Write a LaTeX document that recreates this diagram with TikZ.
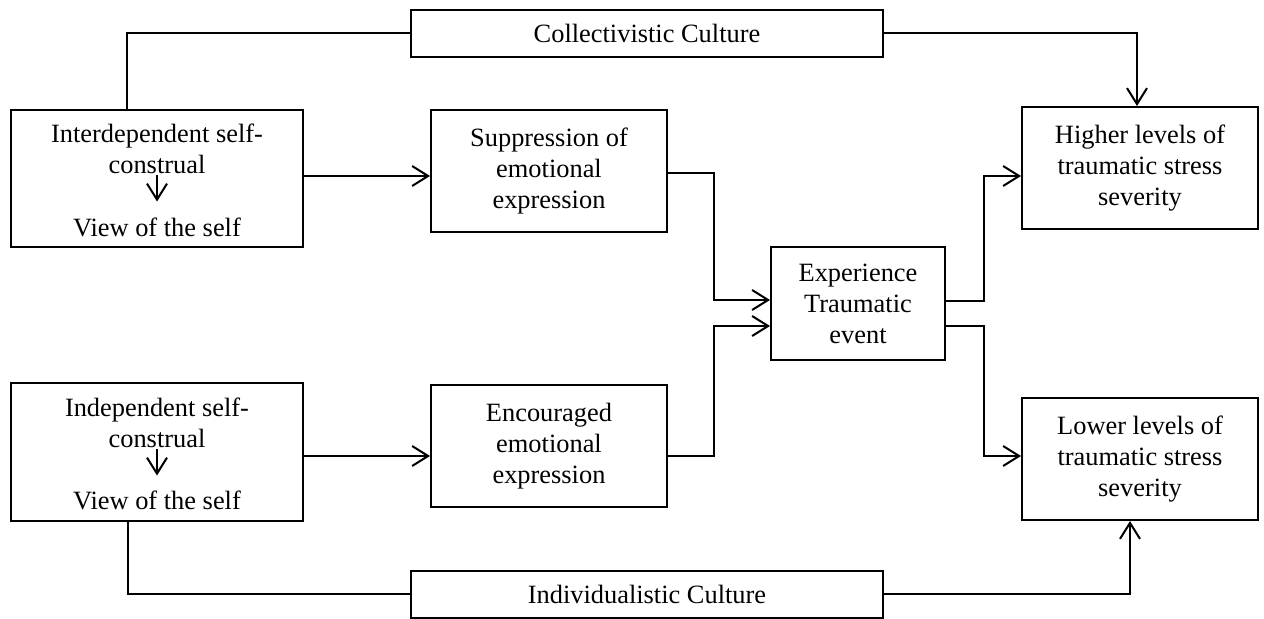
\documentclass[tikz,border=0pt]{standalone}
\usepackage{fontspec}
\setmainfont{Liberation Serif}
\usetikzlibrary{arrows.meta}

\begin{document}
\begin{tikzpicture}[x=0.5pt,y=-0.5pt,->,>={Straight Barb[length=8pt,width=10pt]},line width=1pt,
    main box/.style={draw,rectangle,align=center,inner sep=0pt,font=\fontsize{13.2}{15.5}\selectfont},
    culture box/.style={main box,minimum width=236pt,minimum height=23.5pt},
    self box/.style={main box,minimum width=146pt,minimum height=68.5pt},
    mid box/.style={main box,minimum width=118pt,minimum height=61pt},
    txt/.style={inner sep=0pt,align=center,font=\fontsize{13.2}{15.5}\selectfont}]
                \useasboundingbox (0,0) rectangle (1264,619);

                \node[culture box] (coll) at (647,33.5) {Collectivistic Culture};
                \node[self box] (inter) at (157,178.5) {};
                \node[mid box] (supp) at (549,171) {Suppression of\\emotional\\expression};
                \node[main box,minimum width=87pt,minimum height=56.5pt] (exper) at (858,303.5) {Experience\\Traumatic\\event};
                \node[mid box] (higher) at (1140,168) {Higher levels of\\traumatic stress\\severity};
                \node[self box,minimum height=69pt] (indep) at (157,452) {};
                \node[mid box] (enc) at (549,446.5) {Encouraged\\emotional\\expression};
                \node[mid box] (lower) at (1140,459) {Lower levels of\\traumatic stress\\severity};
                \node[culture box] (indiv) at (647,594.5) {Individualistic Culture};

                \node[txt] (interTop) at (157,149) {Interdependent self-\\construal};
                \node[txt] (interView) at (157,227) {View of the self};
                \node[txt] (indepTop) at (157,423) {Independent self-\\construal};
                \node[txt] (indepView) at (157,500) {View of the self};

                \draw[shorten >=7.5pt] (interTop.south) -- (interView.north);
                \draw[shorten >=7pt] (indepTop.south) -- (indepView.north);

                \draw[-] ([shift={(-30,0)}]inter.north) |- (coll.west);
                \draw (coll.east) -| ([shift={(-3,0)}]higher.north);
                \draw ([shift={(0,-2.5)}]inter.east) -- ([shift={(0,5)}]supp.west);
                \draw ([shift={(0,2)}]supp.east) -- ++(46,0) |- ([shift={(0,-3.5)}]exper.west);
                \draw ([shift={(0,9.5)}]enc.east) -- ++(46,0) |- ([shift={(0,22.5)}]exper.west);
                \draw ([shift={(0,4)}]indep.east) -- ([shift={(0,9.5)}]enc.west);
                \draw ([shift={(0,-2.5)}]exper.east) -- ++(38,0) |- ([shift={(0,8)}]higher.west);
                \draw ([shift={(0,22.5)}]exper.east) -- ++(38,0) |- ([shift={(0,-3)}]lower.west);
                \draw[-] ([shift={(-29,0)}]indep.south) |- (indiv.west);
                \draw (indiv.east) -| ([shift={(-10,0)}]lower.south);

            \end{tikzpicture}
\end{document}
